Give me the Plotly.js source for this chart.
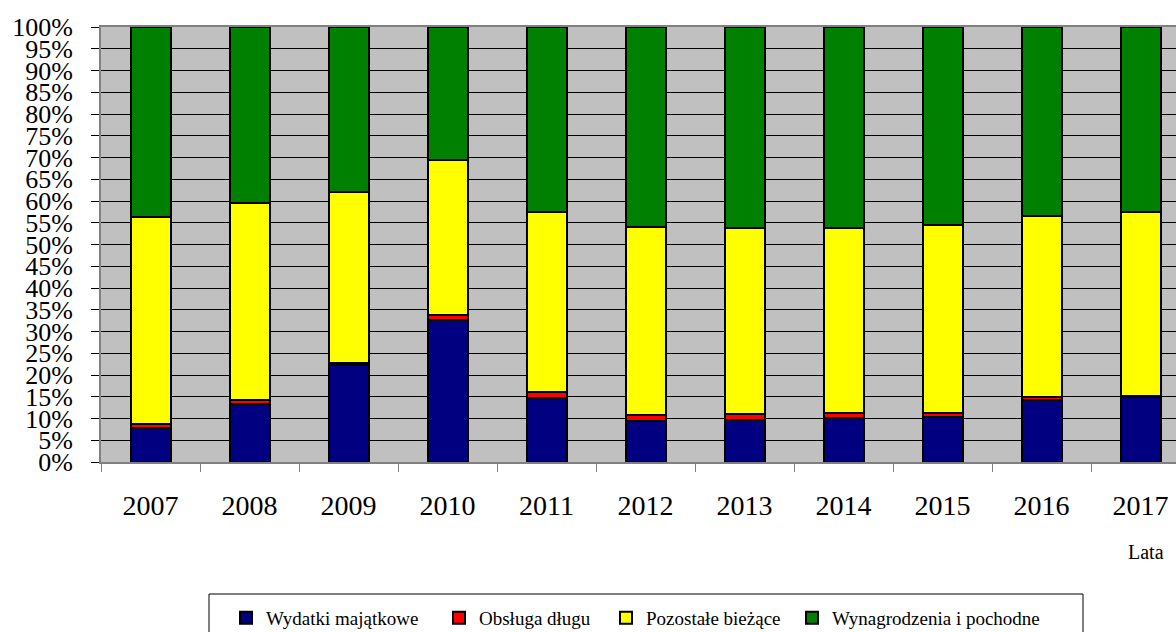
<!DOCTYPE html>
<html>
<head>
<meta charset="utf-8">
<script src="https://cdn.plot.ly/plotly-3.0.1.min.js"></script>
<style>
  html, body { margin: 0; padding: 0; background: #ffffff; }
  #chart { width: 1176px; height: 632px; }
</style>
</head>
<body>
<div id="chart"></div>
<script>
// ---- data (percent shares) ----
const years = ['2007','2008','2009','2010','2011','2012','2013','2014','2015','2016','2017'];
const wydatkiMajatkowe = [7.9, 13.4, 22.3, 32.7, 14.6, 9.5, 9.7, 10.2, 10.4, 14.3, 14.9];
const obslugaDlugu     = [0.9, 0.9, 0.5, 1.1, 1.4, 1.2, 1.3, 1.0, 0.9, 0.6, 0.3];
const pozostaleBiezace = [47.6, 45.3, 39.3, 35.7, 41.5, 43.4, 42.7, 42.7, 43.1, 41.7, 42.2];
const wynagrodzenia    = [43.6, 40.4, 37.9, 30.5, 42.5, 45.9, 46.3, 46.1, 45.6, 43.4, 42.6];
const seriesNames = ['Wydatki majątkowe', 'Obsługa długu', 'Pozostałe bieżące', 'Wynagrodzenia i pochodne'];
const seriesColors = ['#000080', '#FF0000', '#FFFF00', '#008000'];
const yTickVals = [0,5,10,15,20,25,30,35,40,45,50,55,60,65,70,75,80,85,90,95,100];
const xAxisLabel = 'Lata';

const seriesValues = [wydatkiMajatkowe, obslugaDlugu, pozostaleBiezace, wynagrodzenia];
const FONT = "'Liberation Serif', 'Times New Roman', serif";
const legendIds = ['legend', 'legend2', 'legend3', 'legend4'];

const traces = seriesValues.map((vals, i) => ({
  type: 'bar',
  name: seriesNames[i],
  x: years,
  y: vals,
  width: 0.404,
  legend: legendIds[i],
  marker: { color: seriesColors[i], line: { color: '#000000', width: 2 } },
  hoverinfo: 'x+y+name'
}));

const W = 1176, H = 632;
const mL = 101, mR = 0, mT = 27, mB = 170;
const pw = W - mL - mR, ph = H - mT - mB;
const px2x = p => (p - mL) / pw;
const py2y = p => (H - mB - p) / ph;

const layout = {
  width: W, height: H,
  margin: { l: mL, r: mR, t: mT, b: mB, pad: 0, autoexpand: false },
  paper_bgcolor: '#ffffff',
  plot_bgcolor: '#C0C0C0',
  barmode: 'stack',
  showlegend: true,
  font: { family: FONT, color: '#000000' },
  xaxis: {
    type: 'category',
    range: [-0.5, -0.5 + pw / 99],
    tickson: 'boundaries',
    ticks: 'outside', ticklen: 8, tickwidth: 1, tickcolor: '#808080',
    ticklabelstandoff: 17,
    tickfont: { family: FONT, size: 28, color: '#000000' },
    showgrid: false,
    showline: true, linecolor: '#808080', linewidth: 2, mirror: true,
    automargin: false,
    fixedrange: true
  },
  yaxis: {
    range: [0, 100],
    tickvals: yTickVals,
    ticktext: yTickVals.map(v => v + '%'),
    ticks: 'outside', ticklen: 8, tickwidth: 1, tickcolor: '#000000',
    ticklabelstandoff: 13,
    tickfont: { family: FONT, size: 26, color: '#000000' },
    showgrid: true, gridcolor: '#000000', gridwidth: 1,
    zeroline: false,
    showline: true, linecolor: '#808080', linewidth: 2, mirror: true,
    automargin: false,
    fixedrange: true
  },
  shapes: [{
    type: 'rect', xref: 'paper', yref: 'paper',
    x0: px2x(209), x1: px2x(1083), y0: py2y(594), y1: py2y(645),
    line: { color: '#000000', width: 1 },
    fillcolor: 'rgba(0,0,0,0)', layer: 'below'
  }],
  annotations: [{
    text: xAxisLabel, xref: 'paper', yref: 'paper',
    x: px2x(1146), y: py2y(552), xanchor: 'center', yanchor: 'middle',
    showarrow: false, font: { family: FONT, size: 20, color: '#000000' }
  }]
};

// one native legend per series, placed where the reference shows each entry
const legendTextStarts = [267, 480, 647, 833];
legendIds.forEach((id, i) => {
  layout[id] = {
    orientation: 'h',
    x: px2x(legendTextStarts[i] - 41), xanchor: 'left',
    y: py2y(599), yanchor: 'top',
    font: { family: FONT, size: 19, color: '#000000' },
    bgcolor: 'rgba(0,0,0,0)',
    borderwidth: 0,
    itemclick: false, itemdoubleclick: false
  };
});

Plotly.newPlot('chart', traces, layout, { displayModeBar: false, staticPlot: true });
</script>
</body>
</html>
